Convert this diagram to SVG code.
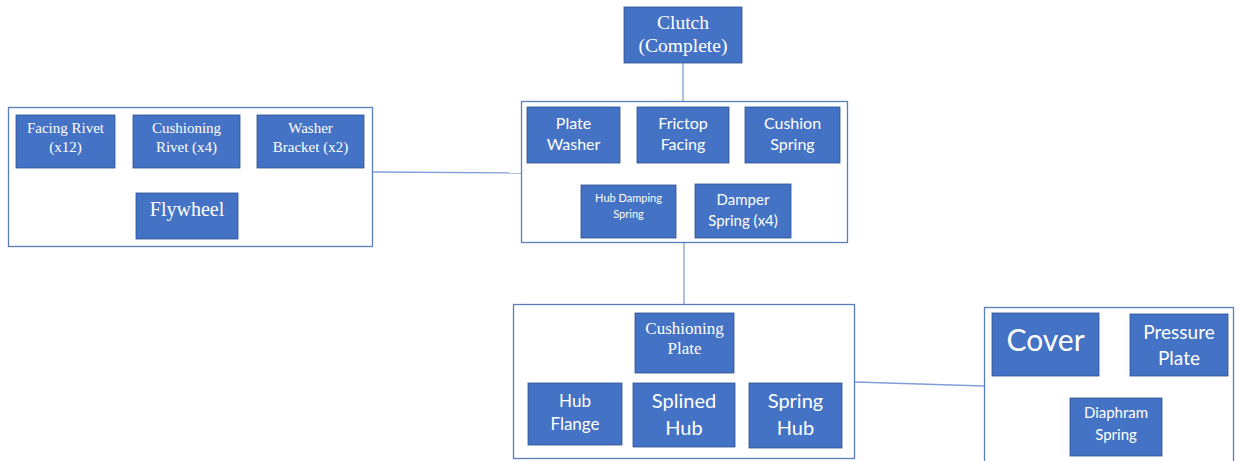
<svg xmlns="http://www.w3.org/2000/svg" width="1239" height="461" viewBox="0 0 1239 461">
<style>
.bg{fill:#ffffff}
.cont{fill:#ffffff;stroke:#5B7DBE;stroke-width:1.3}
.box{fill:#4472C4;stroke:#2F528F;stroke-width:0.8}
.con{stroke:#7F9FD6;stroke-width:1.3;fill:none}
.serif{font-family:"Liberation Serif","Times New Roman",serif;fill:#ffffff;text-anchor:middle}
.sans{font-family:Lato,"Noto Sans","Liberation Sans",sans-serif;fill:#ffffff;text-anchor:middle}
</style>
<rect class="bg" x="0" y="0" width="1239" height="461"/>
<g id="connectors">
<line class="con" x1="683" y1="63" x2="683" y2="101"/>
<line class="con" x1="372" y1="172" x2="521" y2="173"/>
<line class="con" x1="684" y1="242" x2="684" y2="304"/>
<line class="con" x1="855" y1="382" x2="984" y2="386"/>
</g>
<g id="group-left">
<rect class="cont" x="8.5" y="107.5" width="364" height="139"/>
</g>
<g id="group-center">
<rect class="cont" x="521.5" y="101.5" width="326" height="141"/>
</g>
<g id="group-bottom">
<rect class="cont" x="513.5" y="304.5" width="341" height="154"/>
</g>
<g id="group-right">
<rect class="cont" x="984.5" y="307.5" width="249" height="160"/>
</g>
<g id="clutch">
<rect class="box" x="624" y="7" width="118" height="56"/>
<text class="serif" font-size="19.5" x="683" y="29">Clutch</text>
<text class="serif" font-size="19.5" x="683" y="52">(Complete)</text>
</g>
<g id="facing-rivet">
<rect class="box" x="16" y="115" width="99" height="53"/>
<text class="serif" font-size="15" x="65.5" y="133">Facing Rivet</text>
<text class="serif" font-size="15" x="65.5" y="152">(x12)</text>
</g>
<g id="cushioning-rivet">
<rect class="box" x="133" y="115" width="107" height="53"/>
<text class="serif" font-size="15" x="186.5" y="133">Cushioning</text>
<text class="serif" font-size="15" x="186.5" y="152">Rivet (x4)</text>
</g>
<g id="washer-bracket">
<rect class="box" x="257" y="115" width="107" height="53"/>
<text class="serif" font-size="15" x="310.5" y="133">Washer</text>
<text class="serif" font-size="15" x="310.5" y="152">Bracket (x2)</text>
</g>
<g id="flywheel">
<rect class="box" x="136" y="193" width="102" height="46"/>
<text class="serif" font-size="20" x="187" y="216">Flywheel</text>
</g>
<g id="plate-washer">
<rect class="box" x="527" y="107" width="93" height="56"/>
<text class="sans" font-size="16" x="573.5" y="129">Plate</text>
<text class="sans" font-size="16" x="573.5" y="150">Washer</text>
</g>
<g id="frictop-facing">
<rect class="box" x="637" y="107" width="92" height="56"/>
<text class="sans" font-size="16" x="683" y="129">Frictop</text>
<text class="sans" font-size="16" x="683" y="150">Facing</text>
</g>
<g id="cushion-spring">
<rect class="box" x="745" y="107" width="95" height="56"/>
<text class="sans" font-size="16" x="792.5" y="129">Cushion</text>
<text class="sans" font-size="16" x="792.5" y="150">Spring</text>
</g>
<g id="hub-damping-spring">
<rect class="box" x="581" y="185" width="95" height="53"/>
<text class="sans" font-size="11" x="628.5" y="202">Hub Damping</text>
<text class="sans" font-size="11" x="628.5" y="218">Spring</text>
</g>
<g id="damper-spring">
<rect class="box" x="695" y="184" width="96" height="54"/>
<text class="sans" font-size="15" x="743" y="205">Damper</text>
<text class="sans" font-size="15" x="743" y="226">Spring (x4)</text>
</g>
<g id="cushioning-plate">
<rect class="box" x="635" y="313" width="99" height="60"/>
<text class="serif" font-size="17" x="684.5" y="334">Cushioning</text>
<text class="serif" font-size="17" x="684.5" y="354">Plate</text>
</g>
<g id="hub-flange">
<rect class="box" x="528" y="383" width="94" height="62"/>
<text class="sans" font-size="17" x="575" y="407">Hub</text>
<text class="sans" font-size="17" x="575" y="430">Flange</text>
</g>
<g id="splined-hub">
<rect class="box" x="633" y="383" width="102" height="64"/>
<text class="sans" font-size="20" x="684" y="408">Splined</text>
<text class="sans" font-size="20" x="684" y="435">Hub</text>
</g>
<g id="spring-hub">
<rect class="box" x="749" y="383" width="93" height="65"/>
<text class="sans" font-size="20" x="795.5" y="408">Spring</text>
<text class="sans" font-size="20" x="795.5" y="435">Hub</text>
</g>
<g id="cover">
<rect class="box" x="992" y="313" width="107" height="63"/>
<text class="sans" font-size="30" x="1045.5" y="351">Cover</text>
</g>
<g id="pressure-plate">
<rect class="box" x="1130" y="314" width="98" height="62"/>
<text class="sans" font-size="19" x="1179" y="339">Pressure</text>
<text class="sans" font-size="19" x="1179" y="365">Plate</text>
</g>
<g id="diaphram-spring">
<rect class="box" x="1070" y="398" width="92" height="58"/>
<text class="sans" font-size="15" x="1116" y="418">Diaphram</text>
<text class="sans" font-size="15" x="1116" y="440">Spring</text>
</g>
</svg>
